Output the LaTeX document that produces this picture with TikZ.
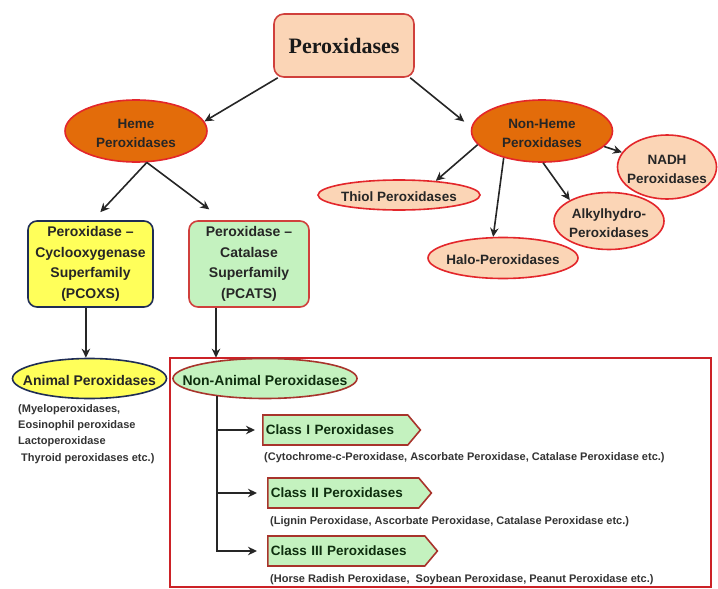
\documentclass[tikz,border=0pt]{standalone}
\usepackage{fontspec}
\setmainfont{Liberation Sans}
\newfontfamily\titleserif{Liberation Serif}
\usetikzlibrary{shapes.geometric,shapes.symbols,arrows.meta}
\definecolor{peach}{HTML}{FBD5B6}
\definecolor{hemeorange}{HTML}{E36C0A}
\definecolor{ovalred}{HTML}{E3262B}
\definecolor{boxred}{HTML}{D0403C}
\definecolor{lemon}{HTML}{FFFF5A}
\definecolor{mint}{HTML}{C4F2BF}
\definecolor{navyline}{HTML}{1F2D55}
\definecolor{tagred}{HTML}{A8342C}
\definecolor{inkgreen}{HTML}{0E2E0E}
\newcommand{\ovaltext}[1]{\makebox[0pt]{\raisebox{-.5\height}[0pt][0pt]{\begin{tabular}[b]{@{}c@{}}#1\end{tabular}}}}

\begin{document}
\begin{tikzpicture}[x=1pt,y=-1pt,
  oval/.style={ellipse,draw=ovalred,line width=1.6pt,fill=peach,inner sep=0pt,font=\bfseries\fontsize{13.5}{19.5}\selectfont,text=black!85},
  famblock/.style={rectangle,rounded corners=9pt,line width=1.6pt,inner sep=0pt,align=center,minimum width=125pt,minimum height=86pt,font=\bfseries\fontsize{14}{20.5}\selectfont,text=black!85},
  classtag/.style={signal,signal to=east,signal pointer angle=100,draw=tagred,line width=1.6pt,fill=mint,minimum height=30pt,inner xsep=3pt,align=left,anchor=west,font=\bfseries\fontsize{13.5}{16}\selectfont,text=inkgreen},
  note/.style={anchor=west,inner sep=0pt,font=\bfseries\fontsize{11}{16.3}\selectfont,text=black!80},
  link/.style={-{Stealth[length=9pt,width=8.5pt]},line width=1.6pt,draw=black!85}]

\useasboundingbox (0,0) rectangle (718,589);
\draw[draw=ovalred!90!black,line width=1.2pt] (170,358) rectangle (711,587);

% top of the tree
\node[rectangle,rounded corners=10pt,draw=boxred,line width=1.6pt,fill=peach,minimum width=140pt,minimum height=63pt,
      font=\titleserif\bfseries\fontsize{22}{26}\selectfont,text=black!90] (top) at (344,45.5) {Peroxidases};
\node[oval,fill=hemeorange,minimum width=142pt,minimum height=62pt] (heme) at (136,131) {\ovaltext{Heme\\Peroxidases}};
\node[oval,fill=hemeorange,minimum width=141pt,minimum height=62pt] (nonheme) at (542,131) {\ovaltext{Non-Heme\\Peroxidases}};

% non-heme branch
\node[oval,minimum width=162pt,minimum height=30pt] (thiol) at (399,195) {\ovaltext{Thiol Peroxidases}};
\node[oval,minimum width=150pt,minimum height=41pt] (halo) at (503,258) {\ovaltext{Halo-Peroxidases}};
\node[oval,minimum width=110pt,minimum height=57pt] (alkyl) at (609,221) {\ovaltext{Alkylhydro-\\Peroxidases}};
\node[oval,minimum width=99pt,minimum height=64pt] (nadh) at (667,167) {\ovaltext{NADH\\Peroxidases}};

% heme branch
\node[famblock,fill=lemon,draw=navyline] (pcoxs) at (90.5,264) {Peroxidase --\\Cyclooxygenase\\Superfamily\\(PCOXS)};
\node[famblock,fill=mint,draw=boxred,minimum width=120pt] (pcats) at (249,264) {Peroxidase --\\Catalase\\Superfamily\\(PCATS)};
\node[oval,fill=lemon,draw=navyline,minimum width=154pt,minimum height=40pt,font=\bfseries\fontsize{14}{19.5}\selectfont] (animal) at (89.5,378.5) {\ovaltext{Animal Peroxidases}};
\node[oval,fill=mint,draw=tagred,minimum width=184pt,minimum height=40pt,font=\bfseries\fontsize{14}{19.5}\selectfont,text=inkgreen] (nonanimal) at (265,378.5) {\ovaltext{Non-Animal Peroxidases}};
\node[note,align=left] (animaldesc) at (18,434) {(Myeloperoxidases,\\Eosinophil peroxidase\\Lactoperoxidase\\\hspace*{3pt}Thyroid peroxidases etc.)};

% classes
\node[classtag,text width=139pt] (class1) at (262,430) {Class I Peroxidases};
\node[classtag,text width=145pt] (class2) at (267,493) {Class II Peroxidases};
\node[classtag,text width=151pt] (class3) at (267,551) {Class III Peroxidases};
\node[note] (desc1) at (264,458) {(Cytochrome-c-Peroxidase, Ascorbate Peroxidase, Catalase Peroxidase etc.)};
\node[note] (desc2) at (270,522) {(Lignin Peroxidase, Ascorbate Peroxidase, Catalase Peroxidase etc.)};
\node[note] (desc3) at (270,580) {(Horse Radish Peroxidase,\ \ Soybean Peroxidase, Peanut Peroxidase etc.)};

% arrows
\draw[link] (top.206) -- (heme.8);
\draw[link,shorten >=9pt] (top.-26) -- (nonheme.177);
\draw[link] (nonheme.192) -- (thiol.21);
\draw[link] (nonheme.215) -- (halo.115);
\draw[link] (nonheme.-88) -- (alkyl.152);
\draw[link] (nonheme.-14) -- (nadh.162);
\draw[link,shorten >=11pt] (heme.-71) -- (pcoxs.87);
\draw[link,shorten >=18pt] (heme.-71) -- (pcats.120);
\draw[link] (pcoxs.264) -- (pcoxs.264 |- animal.north);
\draw[link] (pcats.233) -- (pcats.233 |- nonanimal.north);
\coordinate (trunk) at (217,395.5);
\draw[link,shorten >=10pt] (trunk) |- (class3.west);
\foreach \c/\gap in {class1/7,class2/10}
  \draw[link,shorten >=\gap pt] (trunk |- \c.west) -- (\c.west);
\end{tikzpicture}
\end{document}
